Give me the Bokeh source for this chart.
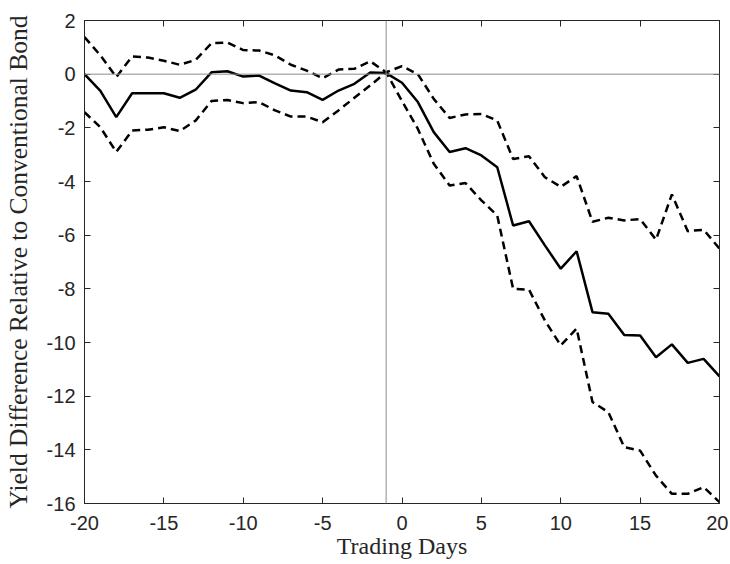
from bokeh.plotting import figure
from bokeh.models import LinearAxis, Span, Range1d, FixedTicker
from bokeh.embed import file_html
from bokeh.resources import INLINE

days = list(range(-20, 21))
mean_diff = [0.0, -0.62, -1.6, -0.71, -0.71, -0.71, -0.88, -0.58, 0.07, 0.11,
             -0.09, -0.05, -0.34, -0.61, -0.67, -0.96, -0.61, -0.36, 0.06, 0.04,
             -0.32, -1.04, -2.16, -2.9, -2.76, -3.03, -3.47, -5.64, -5.48, -6.38,
             -7.25, -6.6, -8.87, -8.93, -9.72, -9.74, -10.55, -10.07, -10.76, -10.61,
             -11.26]
upper_ci = [1.38, 0.7, -0.11, 0.66, 0.62, 0.5, 0.35, 0.53, 1.15, 1.18,
            0.9, 0.88, 0.7, 0.35, 0.13, -0.15, 0.17, 0.2, 0.48, 0.07,
            0.3, 0.0, -0.92, -1.63, -1.5, -1.48, -1.73, -3.16, -3.06, -3.84,
            -4.2, -3.8, -5.5, -5.35, -5.45, -5.4, -6.17, -4.48, -5.85, -5.8,
            -6.5]
lower_ci = [-1.42, -1.98, -2.9, -2.1, -2.07, -1.98, -2.12, -1.73, -1.0, -0.96,
            -1.08, -1.04, -1.35, -1.58, -1.58, -1.79, -1.35, -0.88, -0.42, 0.07,
            -1.0, -2.04, -3.34, -4.15, -4.06, -4.7, -5.27, -8.0, -8.03, -9.18,
            -10.11, -9.48, -12.22, -12.6, -13.9, -14.03, -14.96, -15.64, -15.64, -15.39,
            -15.95]
x_ticks = [-20, -15, -10, -5, 0, 5, 10, 15, 20]
y_ticks = [2, 0, -2, -4, -6, -8, -10, -12, -14, -16]
event_day = -1
zero_level = 0

p = figure(frame_width=635, frame_height=483, output_backend="svg", toolbar_location=None,
           x_range=Range1d(-20, 20), y_range=Range1d(-16, 2),
           min_border_left=84, min_border_top=20, min_border_right=9, min_border_bottom=50)
p.xgrid.visible = False
p.ygrid.visible = False
p.outline_line_color = "#262626"
p.outline_line_width = 1
p.background_fill_color = "white"
p.border_fill_color = "white"

tick_font = "Liberation Sans"
for ax, ticks in ((p.xaxis[0], x_ticks), (p.yaxis[0], y_ticks)):
    ax.ticker = FixedTicker(ticks=ticks)
    ax.major_label_overrides = {t: str(t) for t in ticks}
    ax.major_tick_in = 6
    ax.major_tick_out = 0
    ax.minor_tick_line_color = None
    ax.axis_line_color = "#262626"
    ax.major_tick_line_color = "#262626"
    ax.major_label_text_font = tick_font
    ax.major_label_text_font_size = "20px"
    ax.major_label_text_color = "#262626"
    ax.axis_label_text_font = "Liberation Serif"
    ax.axis_label_text_font_size = "25.5px"
    ax.axis_label_text_font_style = "normal"
    ax.axis_label_text_color = "#262626"

p.xaxis.axis_label = "Trading Days"
p.xaxis.axis_label_text_font_size = "24px"
p.yaxis.axis_label = "Yield Difference Relative to Conventional Bond"
p.xaxis.major_label_standoff = 12
p.yaxis.major_label_standoff = 9
p.xaxis.axis_label_standoff = 0
p.yaxis.axis_label_standoff = 11

top = LinearAxis(ticker=FixedTicker(ticks=x_ticks), major_tick_in=6, major_tick_out=0,
                 minor_tick_line_color=None, major_label_text_color=None,
                 major_label_standoff=0, axis_line_color="#262626",
                 major_tick_line_color="#262626")
right = LinearAxis(ticker=FixedTicker(ticks=y_ticks), major_tick_in=6, major_tick_out=0,
                   minor_tick_line_color=None, major_label_text_color=None,
                   major_label_standoff=0, axis_line_color="#262626",
                   major_tick_line_color="#262626")
p.add_layout(top, "above")
p.add_layout(right, "right")

p.add_layout(Span(location=zero_level, dimension="width", line_color="#8c8c8c", line_width=1))
p.add_layout(Span(location=event_day, dimension="height", line_color="#8c8c8c", line_width=1))

p.line(days, upper_ci, line_color="black", line_width=2.5, line_dash="8 5")
p.line(days, lower_ci, line_color="black", line_width=2.5, line_dash="8 5")
p.line(days, mean_diff, line_color="black", line_width=2.5)

open("out.html", "w").write(file_html(p, INLINE))
